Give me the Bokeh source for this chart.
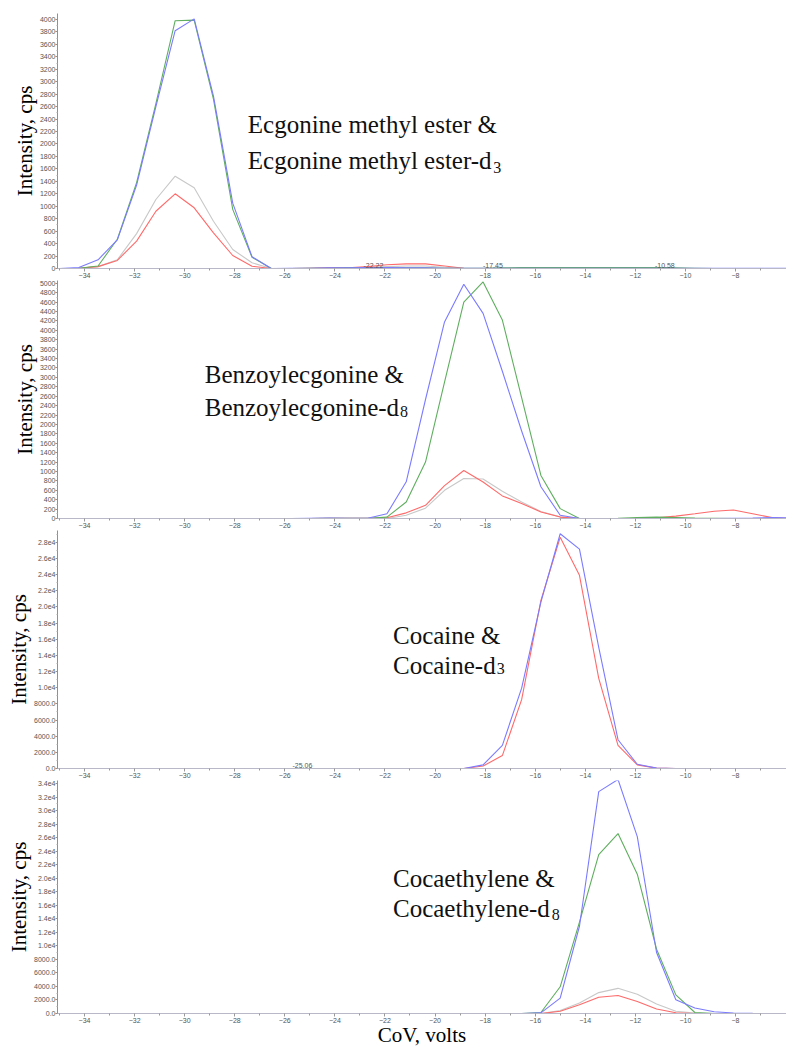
from bokeh.plotting import figure
from bokeh.layouts import column
from bokeh.models import Range1d, FixedTicker, CustomJSTickFormatter, Label, BasicTickFormatter
from bokeh.core.properties import value
from bokeh.embed import file_html
from bokeh.resources import INLINE

# CoV scan points (volts)
cov = [-35.0, -34.23, -33.46, -32.69, -31.92, -31.15, -30.38, -29.62, -28.85, -28.08,
       -27.31, -26.54, -25.77, -25.0, -24.23, -23.46, -22.69, -21.92, -21.15, -20.38,
       -19.62, -18.85, -18.08, -17.31, -16.54, -15.77, -15.0, -14.23, -13.46, -12.69,
       -11.92, -11.15, -10.38, -9.62, -8.85, -8.08, -7.31, -6.54, -5.77, -5.0]

# Panel 1: Ecgonine methyl ester
eme_blue = [0, 15, 140, 460, 1340, 2600, 3820, 4010, 2770, 1050,
            190, 0, 5, 5, 10, 10, 15, 15, 10, 10,
            5, 5, 5, 5, 5, 5, 5, 5, 5, 5,
            5, 5, 5, 5, 5, 5, 5, 5, 5, 5]
eme_green = [0, 5, 40, 470, 1380, 2650, 3980, 3990, 2720, 950,
             180, 0, 0, 5, 5, 10, 10, 10, 10, 10,
             5, 5, 5, 10, 15, 15, 15, 15, 15, 15,
             15, 15, 10, 5, 0, 0, 0, 0, 0, 0]
eme_gray = [0, 5, 30, 140, 560, 1108, 1483, 1296, 760, 305,
            92, 0, 0, 5, 10, 10, 20, 30, 40, 40,
            20, 5, 0, 0, 0, 0, 0, 0, 0, 0,
            0, 0, 0, 0, 0, 0, 0, 0, 0, 0]
eme_red = [0, 5, 30, 130, 440, 920, 1200, 975, 573, 209,
           37, 0, 0, 5, 10, 10, 30, 60, 75, 75,
           40, 5, 0, 0, 0, 0, 0, 0, 0, 0,
           0, 0, 0, 0, 0, 0, 0, 0, 0, 0]
eme_peaks = ["-22.22", "-17.45", "-10.58"]

# Panel 2: Benzoylecgonine
be_blue = [0, 0, 0, 0, 0, 0, 0, 0, 0, 0,
           0, 0, 0, 5, 10, 5, 5, 100, 780, 2530,
           4180, 4980, 4360, 3130, 1860, 675, 70, 0, 0, 0,
           0, 0, 0, 0, 0, 5, 10, 20, 10, 0]
be_green = [0, 0, 0, 0, 0, 0, 0, 0, 0, 0,
            0, 0, 0, 0, 5, 5, 5, 30, 350, 1200,
            2900, 4600, 5030, 4220, 2570, 915, 210, 0, 0, 5,
            20, 30, 20, 10, 5, 0, 0, 0, 0, 0]
be_gray = [0, 0, 0, 0, 0, 0, 0, 0, 0, 0,
           0, 0, 0, 0, 0, 0, 0, 0, 70, 220,
           600, 850, 840, 580, 350, 150, 35, 0, 0, 0,
           0, 0, 0, 0, 0, 0, 0, 0, 0, 0]
be_red = [0, 0, 0, 0, 0, 0, 0, 0, 0, 0,
          0, 0, 0, 0, 5, 5, 5, 15, 120, 280,
          700, 1020, 775, 480, 320, 140, 30, 0, 0, 0,
          5, 15, 50, 100, 155, 180, 100, 20, 0, 0]

# Panel 3: Cocaine
coc_blue = [0, 0, 0, 0, 0, 0, 0, 0, 0, 0,
            0, 0, 0, 0, 0, 0, 0, 0, 0, 0,
            0, 0, 450, 2870, 9940, 20600, 29050, 27150, 15000, 3560,
            530, 50, 0, 0, 0, 0, 0, 0, 0, 0]
coc_red = [0, 0, 0, 0, 0, 0, 0, 0, 0, 0,
           0, 0, 0, 0, 0, 0, 0, 0, 0, 0,
           0, 0, 300, 1600, 8520, 20800, 28600, 23900, 11150, 2870,
           450, 50, 0, 0, 0, 0, 0, 0, 0, 0]
coc_peaks = ["-25.06"]

# Panel 4: Cocaethylene
ce_blue = [0, 0, 0, 0, 0, 0, 0, 0, 0, 0,
           0, 0, 0, 0, 0, 0, 0, 0, 0, 0,
           0, 0, 0, 0, 0, 100, 2270, 12900, 32800, 34600,
           26150, 9020, 2030, 820, 250, 80, 20, 0, 0, 0]
ce_green = [0, 0, 0, 0, 0, 0, 0, 0, 0, 0,
            0, 0, 0, 0, 0, 0, 0, 0, 0, 0,
            0, 0, 0, 0, 0, 150, 3950, 13500, 23500, 26600,
            20600, 9500, 2750, 150, 0, 0, 0, 0, 0, 0]
ce_gray = [0, 0, 0, 0, 0, 0, 0, 0, 0, 0,
           0, 0, 0, 0, 0, 0, 0, 0, 0, 0,
           0, 0, 0, 0, 0, 0, 430, 1540, 3090, 3720,
           2850, 1400, 340, 60, 0, 0, 0, 0, 0, 0]
ce_red = [0, 0, 0, 0, 0, 0, 0, 0, 0, 0,
          0, 0, 0, 0, 0, 0, 0, 0, 0, 0,
          0, 0, 0, 0, 0, 0, 340, 1300, 2410, 2650,
          1780, 670, 100, 0, 0, 0, 0, 0, 0, 0]

x_major = list(range(-34, -7, 2))
x_minor = list(range(-35, -6, 2))

BLUE = "#7b7bff"
GREEN = "#5fae5f"
RED = "#ff6a6a"
GRAY = "#c8c8c8"
SERIF = "Liberation Serif"
SANS = "Liberation Sans"
TICK_COLOR = "#555555"

sci_fmt = CustomJSTickFormatter(code="""
if (tick < 10000) { return tick.toFixed(1); }
return (tick / 10000).toFixed(1) + 'e4';
""")


def make_panel(height, ymax, ystep, ytop_tick, series, sci, top_border=0, xlabel=None):
    p = figure(width=786, height=height, output_backend="svg", toolbar_location=None,
               x_range=Range1d(-35.08, -5.96), y_range=Range1d(0, ymax),
               min_border_left=57, min_border_right=0, min_border_top=top_border,
               min_border_bottom=0)
    p.outline_line_color = None
    p.xgrid.visible = False
    p.ygrid.visible = False
    p.background_fill_color = "white"
    p.border_fill_color = "white"

    for ys, col in series:
        p.line(cov, ys, line_color=col, line_width=1.1)

    xa = p.xaxis[0]
    xa.ticker = FixedTicker(ticks=x_major, minor_ticks=x_minor)
    xa.axis_line_color = "#b8b8c8"
    xa.major_tick_line_color = "#999999"
    xa.minor_tick_line_color = "#999999"
    xa.major_tick_out = 3
    xa.major_tick_in = 0
    xa.minor_tick_out = 2
    xa.minor_tick_in = 0
    xa.major_label_standoff = 1
    xa.major_label_text_font = SANS
    xa.major_label_text_font_size = "7px"
    xa.major_label_text_color = TICK_COLOR
    if xlabel:
        xa.axis_label = xlabel
        xa.axis_label_text_font = SERIF
        xa.axis_label_text_font_style = "normal"
        xa.axis_label_text_font_size = "21px"
        xa.axis_label_text_color = "black"
        xa.axis_label_standoff = -3

    ya = p.yaxis[0]
    yt = list(range(0, ytop_tick + 1, ystep))
    ym = [t + ystep / 2 for t in yt]
    ya.ticker = FixedTicker(ticks=yt, minor_ticks=ym)
    ya.formatter = sci_fmt if sci else BasicTickFormatter(use_scientific=False)
    ya.axis_line_color = "#909090"
    ya.major_tick_line_color = "#909090"
    ya.minor_tick_line_color = "#b0b0b0"
    ya.major_tick_out = 2
    ya.major_tick_in = 0
    ya.minor_tick_out = 1
    ya.minor_tick_in = 0
    ya.major_label_standoff = 0
    ya.major_label_text_font = SANS
    ya.major_label_text_font_size = "7px"
    ya.major_label_text_color = TICK_COLOR
    ya.axis_label = "Intensity, cps"
    ya.axis_label_text_font = SERIF
    ya.axis_label_text_font_style = "normal"
    ya.axis_label_text_font_size = "21px"
    ya.axis_label_text_color = "black"
    ya.axis_label_standoff = 0
    return p


def add_title(p, x, y1, y2, ysub, line1, line2, sub, em2):
    fs = 25
    for yy, t in ((y1, line1), (y2, line2)):
        p.add_layout(Label(x=x, y=yy, text=t, text_font=SERIF, text_font_size=f"{fs}px",
                           text_color="#111111", text_baseline="alphabetic"))
    p.add_layout(Label(x=x, y=ysub, text=sub, x_offset=em2 * fs + 1, text_font=SERIF,
                       text_font_size="16px", text_color="#111111", text_baseline="alphabetic"))


def add_peaks(p, labels):
    p.text(x=[float(s) for s in labels], y=[0] * len(labels), text=labels,
           text_font=value(SANS), text_font_size="7px", text_color=TICK_COLOR,
           text_align="center", text_baseline="bottom", x_offset=-6, y_offset=-1)


p1 = make_panel(280, 4096, 200, 4000,
                [(eme_gray, GRAY), (eme_red, RED), (eme_green, GREEN), (eme_blue, BLUE)],
                False, top_border=13)
add_title(p1, -27.48, 2313, 1735, 1622, "Ecgonine methyl ester &",
          "Ecgonine methyl ester-d", "3", 9.776)
add_peaks(p1, eme_peaks)

p2 = make_panel(250, 5060, 200, 5000,
                [(be_gray, GRAY), (be_red, RED), (be_green, GREEN), (be_blue, BLUE)], False)
add_title(p2, -29.2, 3059, 2363, 2278, "Benzoylecgonine &", "Benzoylecgonine-d", "8", 7.776)

p3 = make_panel(250, 29450, 2000, 28000,
                [(coc_red, RED), (coc_blue, BLUE)], True)
add_title(p3, -21.68, 16480, 12730, 12360, "Cocaine &", "Cocaine-d", "3", 4.11)
add_peaks(p3, coc_peaks)

p4 = make_panel(269, 34450, 2000, 34000,
                [(ce_gray, GRAY), (ce_red, RED), (ce_green, GREEN), (ce_blue, BLUE)],
                True, xlabel="CoV, volts")
add_title(p4, -21.68, 19970, 15480, 14620, "Cocaethylene &", "Cocaethylene-d", "8", 6.307)

layout = column(p1, p2, p3, p4, spacing=0)
open("out.html", "w").write(file_html(layout, INLINE))
